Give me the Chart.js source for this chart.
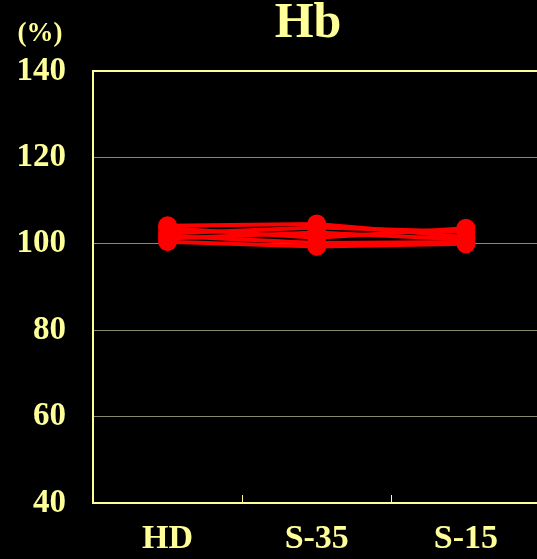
<!DOCTYPE html>
<html>
<head>
<meta charset="utf-8">
<script src="https://cdn.jsdelivr.net/npm/chart.js@4"></script>
<style>
  html, body { margin: 0; padding: 0; background: #000; overflow: hidden; }
  #wrap { width: 550px; height: 559px; }
</style>
</head>
<body>
<div id="wrap"><canvas id="myChart" width="550" height="559"></canvas></div>
<script>
// categories and tick labels
const categories = ['HD', 'S-35', 'S-15'];
const yTicks = [40, 60, 80, 100, 120, 140];

// one small array per patient (% of baseline)
const patient1 = [104.2, 104.6, 101.6];
const patient2 = [103.6, 101.4, 103.6];
const patient3 = [102.4, 103.8, 102.8];
const patient4 = [101.8, 100.2, 100.4];
const patient5 = [101.2, 102.6, 101.0];
const patient6 = [100.5, 99.4, 100.0];
const patients = [patient1, patient2, patient3, patient4, patient5, patient6];

const yellow = '#ffff99';
const red = '#ff0000';

// frame, inner x ticks and the headings
const framePlugin = {
  id: 'frame',
  afterDraw(chart) {
    const ctx = chart.ctx;
    const a = chart.chartArea;
    const x = chart.scales.x;
    ctx.save();
    ctx.strokeStyle = yellow;
    ctx.lineWidth = 2;
    ctx.strokeRect(a.left, a.top, a.right - a.left, a.bottom - a.top);
    ctx.lineWidth = 1;
    for (let i = 0; i < categories.length - 1; i++) {
      const px = Math.round((x.getPixelForValue(i) + x.getPixelForValue(i + 1)) / 2) + 0.5;
      ctx.beginPath();
      ctx.moveTo(px, a.bottom);
      ctx.lineTo(px, a.bottom - 8);
      ctx.stroke();
    }
    ctx.fillStyle = yellow;
    ctx.textAlign = 'center';
    ctx.textBaseline = 'middle';
    ctx.font = 'bold 50px "Liberation Serif", serif';
    ctx.fillText('Hb', 308, 24);
    ctx.font = 'bold 27px "Liberation Serif", serif';
    ctx.fillText('(%)', 40, 34);
    ctx.restore();
  }
};

const ctx = document.getElementById('myChart').getContext('2d');
new Chart(ctx, {
  type: 'line',
  data: {
    labels: categories,
    datasets: patients.map((vals, i) => ({
      label: 'P' + (i + 1),
      data: vals,
      borderColor: red,
      backgroundColor: red,
      borderWidth: 4,
      pointRadius: 9.5,
      pointBorderWidth: 0,
      pointBackgroundColor: red,
      tension: 0
    }))
  },
  options: {
    responsive: false,
    animation: false,
    layout: { padding: { top: 71, left: 0, right: 8, bottom: 0 } },
    plugins: {
      legend: { display: false },
      title: { display: false },
      tooltip: { enabled: false }
    },
    scales: {
      x: {
        offset: true,
        afterFit: (scale) => { scale.height = 56; },
        grid: { display: false, drawTicks: false },
        border: { display: false },
        ticks: {
          color: yellow,
          padding: 16,
          font: { family: '"Liberation Serif", serif', size: 34, weight: 'bold' }
        }
      },
      y: {
        min: yTicks[0],
        max: yTicks[yTicks.length - 1],
        afterBuildTicks: (scale) => { scale.ticks = yTicks.map(v => ({ value: v })); },
        afterFit: (scale) => { scale.width = 93; },
        grid: {
          drawTicks: false,
          color: (c) => (c.tick && (c.tick.value === 40 || c.tick.value === 140)) ? 'rgba(0,0,0,0)' : '#8a8a6a',
          lineWidth: 1
        },
        border: { display: false },
        ticks: {
          color: yellow,
          padding: 27,
          font: { family: '"Liberation Serif", serif', size: 33, weight: 'bold' }
        }
      }
    }
  },
  plugins: [framePlugin]
});
</script>
</body>
</html>
